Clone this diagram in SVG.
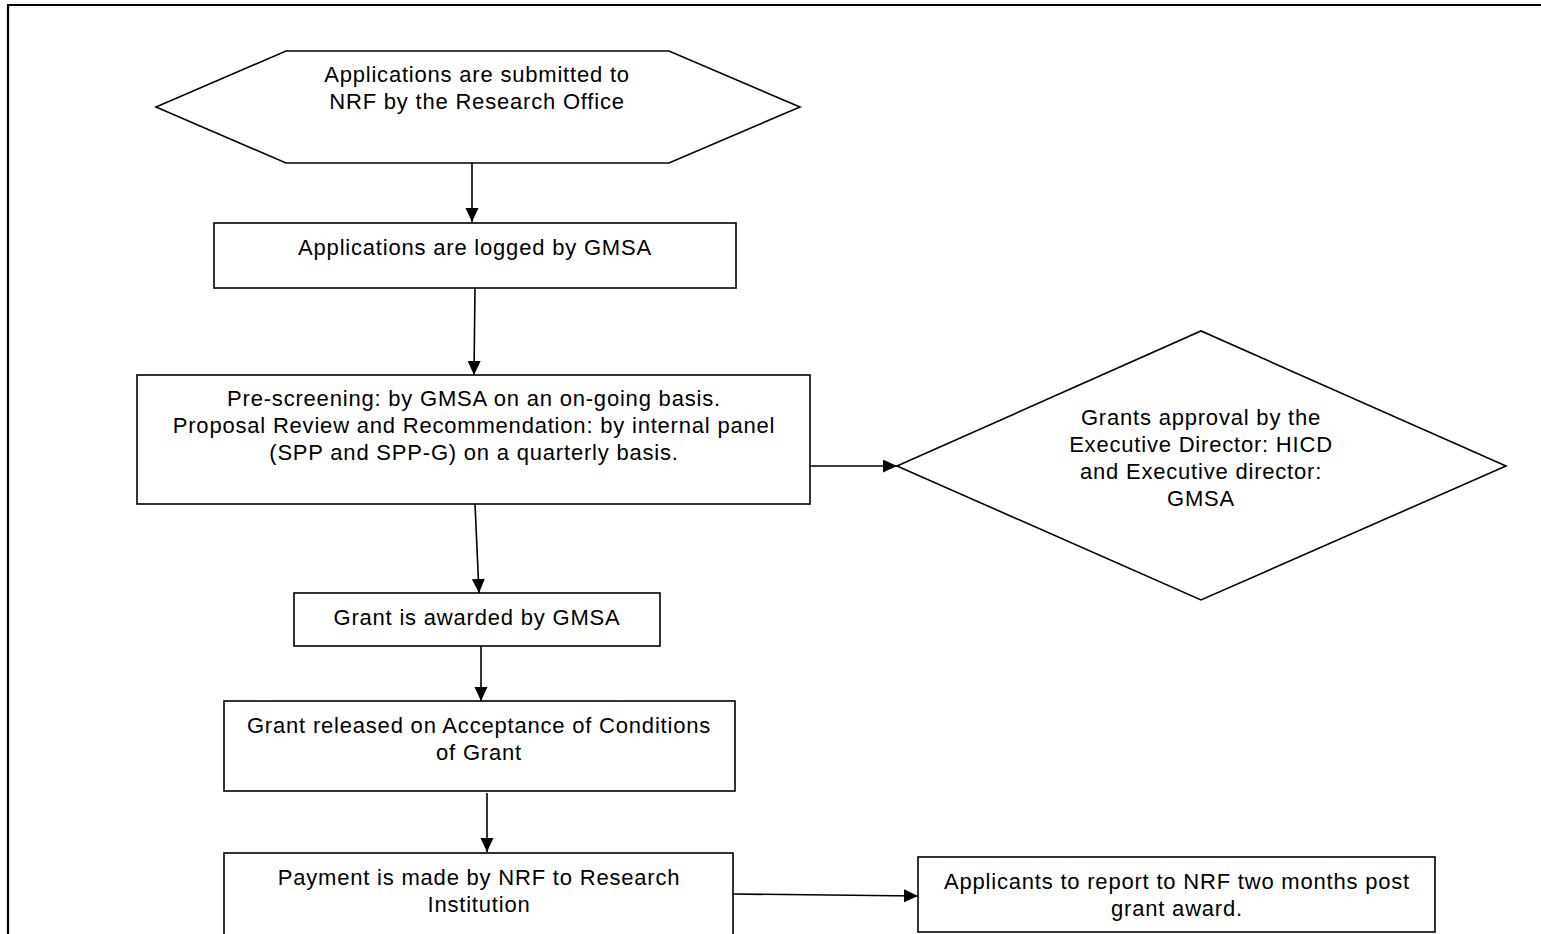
<svg xmlns="http://www.w3.org/2000/svg" width="1541" height="934" viewBox="0 0 1541 934">
<style>
.s{fill:#fff;stroke:#000;stroke-width:1.6}
.t{font-family:"Liberation Sans",Arial,sans-serif;font-size:22px;letter-spacing:0.8px;fill:#000;text-anchor:middle}
.c{fill:none;stroke:#000;stroke-width:1.6}
</style>
<defs>
<marker id="ah" markerWidth="15" markerHeight="14" refX="14" refY="6.5" orient="auto" markerUnits="userSpaceOnUse">
<path d="M0,0 L14,6.5 L0,13 Z" fill="#000"/>
</marker>
</defs>
<rect width="1541" height="934" fill="#fff"/>
<path d="M8,940 L8,5 L1545,5" fill="none" stroke="#000" stroke-width="2.2"/>
<g id="connectors">
<line class="c" x1="472" y1="163" x2="472" y2="222" marker-end="url(#ah)"/>
<line class="c" x1="475" y1="288" x2="474" y2="375" marker-end="url(#ah)"/>
<line class="c" x1="810" y1="466" x2="897" y2="466" marker-end="url(#ah)"/>
<line class="c" x1="475" y1="504" x2="479" y2="593" marker-end="url(#ah)"/>
<line class="c" x1="481" y1="646" x2="481" y2="701" marker-end="url(#ah)"/>
<line class="c" x1="487" y1="793" x2="487" y2="852" marker-end="url(#ah)"/>
<line class="c" x1="733" y1="894" x2="918" y2="896" marker-end="url(#ah)"/>
</g>
<g id="n1">
<polygon class="s" points="156,107 286,51 669,51 800,107 669,163 286,163"/>
<text class="t" x="477" y="82">Applications are submitted to</text>
<text class="t" x="477" y="109">NRF by the Research Office</text>
</g>
<g id="n2">
<rect class="s" x="214" y="223" width="522" height="65"/>
<text class="t" x="475" y="255">Applications are logged by GMSA</text>
</g>
<g id="n3">
<rect class="s" x="137" y="375" width="673" height="129"/>
<text class="t" x="474" y="406">Pre-screening: by GMSA on an on-going basis.</text>
<text class="t" x="474" y="433">Proposal Review and Recommendation: by internal panel</text>
<text class="t" x="474" y="460">(SPP and SPP-G) on a quarterly basis.</text>
</g>
<g id="n4">
<polygon class="s" points="897,466 1201,331 1506,466 1201,600"/>
<text class="t" x="1201" y="425">Grants approval by the</text>
<text class="t" x="1201" y="452">Executive Director: HICD</text>
<text class="t" x="1201" y="479">and Executive director:</text>
<text class="t" x="1201" y="506">GMSA</text>
</g>
<g id="n5">
<rect class="s" x="294" y="593" width="366" height="53"/>
<text class="t" x="477" y="625">Grant is awarded by GMSA</text>
</g>
<g id="n6">
<rect class="s" x="224" y="701" width="511" height="90"/>
<text class="t" x="479" y="733">Grant released on Acceptance of Conditions</text>
<text class="t" x="479" y="760">of Grant</text>
</g>
<g id="n7">
<rect class="s" x="224" y="853" width="509" height="100"/>
<text class="t" x="479" y="885">Payment is made by NRF to Research</text>
<text class="t" x="479" y="912">Institution</text>
</g>
<g id="n8">
<rect class="s" x="918" y="857" width="517" height="75"/>
<text class="t" x="1177" y="889">Applicants to report to NRF two months post</text>
<text class="t" x="1177" y="916">grant award.</text>
</g>
</svg>
